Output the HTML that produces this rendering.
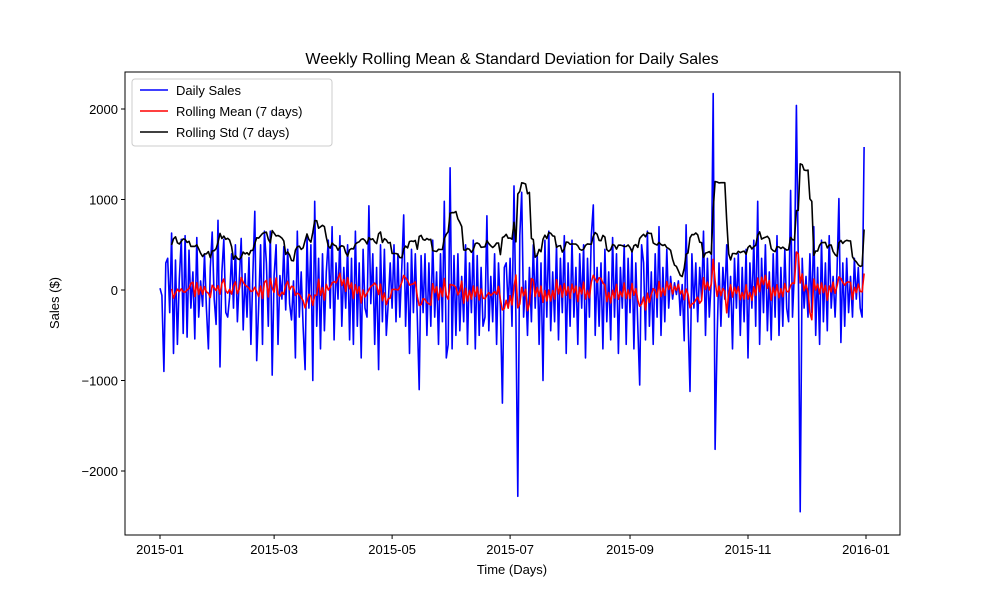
<!DOCTYPE html>
<html><head><meta charset="utf-8"><style>
body{margin:0;background:#fff}
svg{font-family:"Liberation Sans","DejaVu Sans",sans-serif}
</style></head><body>
<svg id="chart" width="1000" height="600" xmlns="http://www.w3.org/2000/svg">
<rect width="1000" height="600" fill="#fff"/>
<text x="512" y="64" text-anchor="middle" font-size="16">Weekly Rolling Mean &amp; Standard Deviation for Daily Sales</text>
<g id="plot"></g>
<rect x="125" y="72" width="775" height="463" fill="none" stroke="#000" stroke-width="1"/>
<text x="512" y="574" text-anchor="middle" font-size="13">Time (Days)</text>
<text transform="translate(59,303) rotate(-90)" text-anchor="middle" font-size="13">Sales ($)</text>
<g>
<rect x="132" y="79" width="200" height="67" rx="3" fill="#fff" fill-opacity="0.8" stroke="#ccc"/>
<g><line x1="140" y1="90" x2="168" y2="90" stroke="blue" stroke-width="1.5"/><text x="176" y="95" font-size="13">Daily Sales</text></g>
<g><line x1="140" y1="111" x2="168" y2="111" stroke="red" stroke-width="1.5"/><text x="176" y="116" font-size="13">Rolling Mean (7 days)</text></g>
<g><line x1="140" y1="132" x2="168" y2="132" stroke="#000" stroke-width="1.5"/><text x="176" y="137" font-size="13">Rolling Std (7 days)</text></g>
</g>
</svg>
<script>
const sales=[20,-60,-900,300,350,-250,630,-700,330,-600,
120,560,-480,600,-520,440,-200,200,-540,580,
-300,100,-180,400,-200,-650,250,640,-100,-380,
770,-850,200,560,-250,-300,-80,400,-200,500,
-350,120,570,-440,180,-300,360,-600,150,870,
-780,-200,500,-600,650,300,-400,650,-940,160,
500,-600,160,-100,480,-220,450,-150,-330,100,
-750,650,-300,200,-400,-880,600,-200,500,-1000,
980,-400,350,-650,400,-450,200,550,-200,700,
-550,300,-100,600,-400,250,-200,500,-550,350,
-600,650,-400,300,-750,450,-200,-300,930,-150,
400,-600,250,-880,500,-350,450,-500,-150,300,
-200,500,-350,400,-300,250,830,-400,300,-700,
450,-250,400,-300,-1100,380,-250,400,-500,300,
-400,550,-300,200,-600,400,-350,980,-750,-600,
1350,-650,380,-500,400,-450,150,-350,500,-600,
300,-250,550,-650,380,-500,250,-400,-300,820,
-450,150,-350,400,-600,300,-200,-1250,250,300,
-200,350,-400,1150,-300,-2280,600,1080,-300,100,
-500,250,-350,500,-200,400,-600,300,-1000,550,
-300,650,-450,200,-350,500,-550,350,-250,600,
-700,300,-400,550,-300,250,-600,400,-200,500,
-750,350,-300,600,940,-500,250,-400,300,-650,
450,-350,200,-550,580,-300,400,-700,250,-200,
500,-600,350,-250,450,-650,300,-400,-1050,500,
300,-550,650,-400,200,-600,400,-300,700,-500,
250,-350,450,-200,150,-100,80,-50,100,-280,
60,-560,720,-300,-1120,400,-200,300,-350,250,
-100,650,-500,350,-300,100,2170,-1760,-550,300,
-400,250,-100,500,-300,150,-650,350,-200,400,
-500,250,-350,450,-750,300,-200,550,-400,980,
-600,350,-250,500,-450,200,-550,400,-300,600,
-500,250,-400,450,-200,-350,1100,-300,200,2040,
300,-2450,350,-200,150,-300,400,-250,700,-500,
250,-600,550,-350,300,-450,600,-200,150,-300,
200,1010,-580,300,-400,350,-250,150,-300,350,
-100,250,-200,-300,1580];
const yTicks=[-2000,-1000,0,1000,2000];
const yTickLabels=["\u22122000","\u22121000","0","1000","2000"];
const xTickDays=[0,59,120,181,243,304,365];
const xTickLabels=["2015-01","2015-03","2015-05","2015-07","2015-09","2015-11","2016-01"];
const WIN=7;
const X=d=>160+d*(706/365);
const Y=v=>290-v*0.0905;
const ns="http://www.w3.org/2000/svg";
const plot=document.getElementById('plot');
const chart=document.getElementById('chart');
function mk(t,a,p){const e=document.createElementNS(ns,t);for(const k in a)e.setAttribute(k,a[k]);(p||plot).appendChild(e);return e;}
yTicks.forEach((v,i)=>{
 const l=mk('line',{x1:121,x2:125,y1:Y(v),y2:Y(v),stroke:'#000'},chart);
 
 
 const t=mk('text',{x:118,y:Y(v)+5,'text-anchor':'end','font-size':13},chart);
 t.textContent=yTickLabels[i];
 
 
});
xTickDays.forEach((d,i)=>{
 const l=mk('line',{x1:X(d),x2:X(d),y1:535,y2:539,stroke:'#000'},chart);
 
 
 const t=mk('text',{x:X(d),y:554,'text-anchor':'middle','font-size':13},chart);
 t.textContent=xTickLabels[i];
 
 
});
const mean=[],std=[];
for(let i=WIN-1;i<sales.length;i++){
 const w=sales.slice(i-WIN+1,i+1);const m=w.reduce((a,b)=>a+b,0)/WIN;
 const s=Math.sqrt(w.reduce((a,b)=>a+(b-m)*(b-m),0)/(WIN-1));
 mean.push([i,m]);std.push([i,s]);
}
function line(pts,color,name){
 const p=mk('polyline',{points:pts.map(([d,v])=>X(d).toFixed(1)+','+Y(v).toFixed(1)).join(' '),fill:'none',stroke:color,'stroke-width':1.6,'stroke-linejoin':'round'});
 
 
}
line(sales.map((v,i)=>[i,v]),'blue','daily-sales-line');
line(mean,'red','rolling-mean-line');
line(std,'#000','rolling-std-line');
</script>
</body></html>
